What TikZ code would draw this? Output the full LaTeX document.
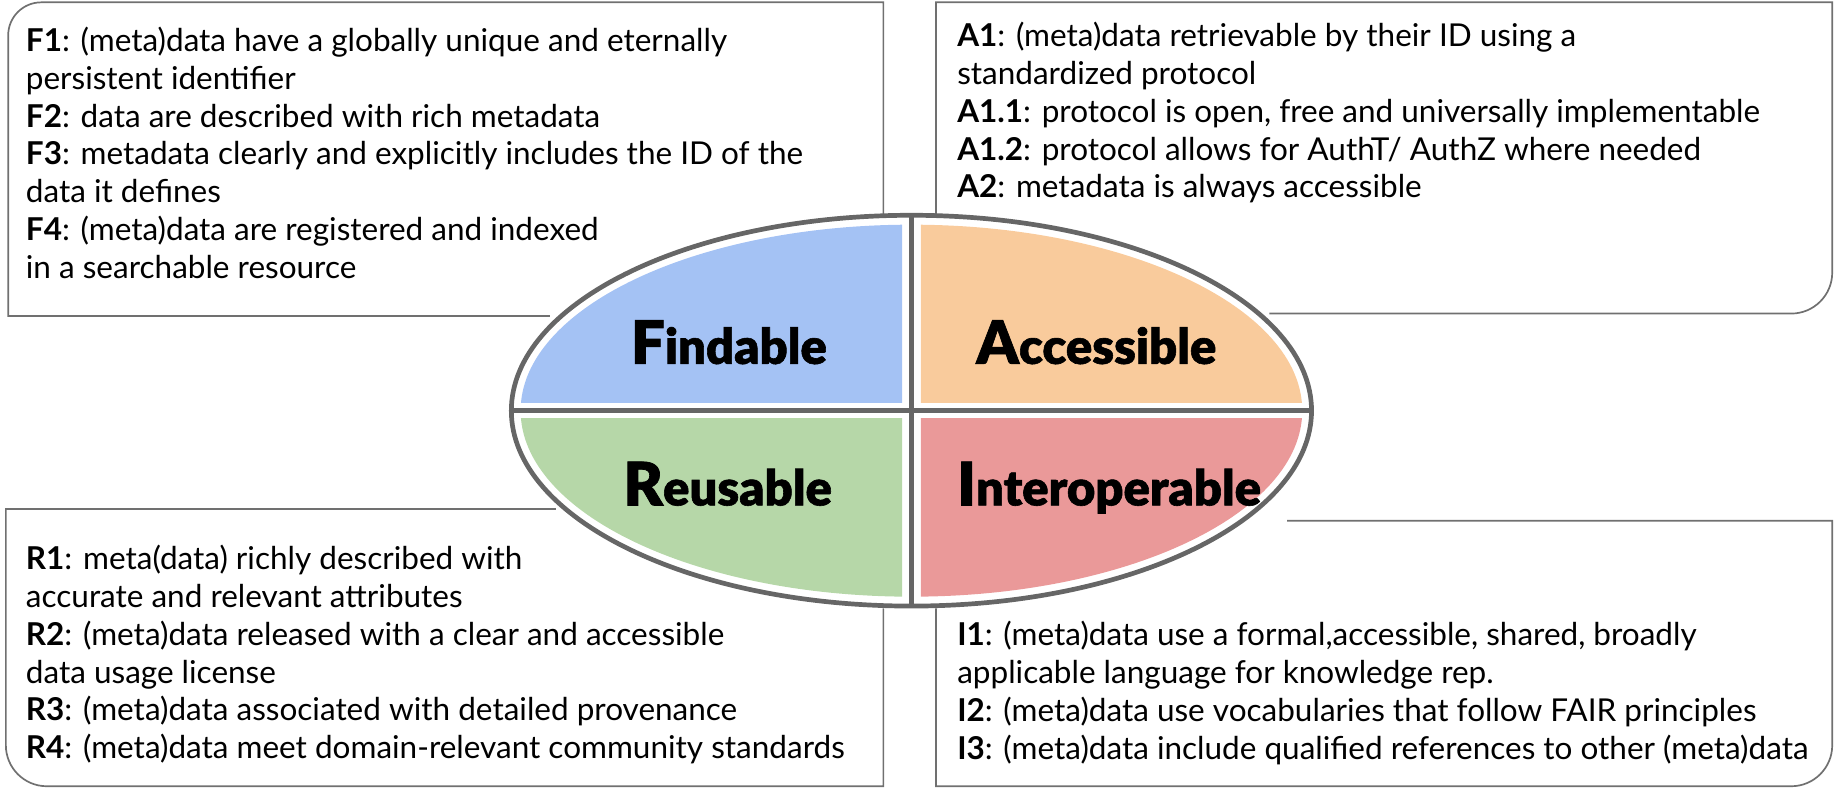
\documentclass[tikz,border=0pt]{standalone}
\usepackage{fontspec}
\setmainfont{Lato}
\newfontfamily\titlefont{Lato}[UprightFont={* Bold}, FakeBold=1.2]
\definecolor{edge}{HTML}{666666}
\definecolor{boxedge}{HTML}{707070}
\definecolor{fblue}{HTML}{A4C2F4}
\definecolor{aorange}{HTML}{F9CB9C}
\definecolor{rgreen}{HTML}{B6D7A8}
\definecolor{ired}{HTML}{EA9999}
\newcommand{\bigtitle}[2]{{\titlefont\bfseries\fontsize{60}{60}\selectfont #1}{\titlefont\bfseries\fontsize{49}{49}\selectfont #2}}
\begin{document}
\begin{tikzpicture}[x=1.17pt,y=-1.17pt,
  boxline/.style={draw=boxedge, line width=1.7pt},
  ringline/.style={draw=edge, line width=4.7pt},
  bodytext/.style={anchor=base west, inner sep=0pt, font=\fontsize{31.5}{37.8}\selectfont},
  titletext/.style={anchor=base, inner sep=0pt}]
\useasboundingbox (0,0) rectangle (1571.8,675.2);
% text boxes
\draw[boxline] (755,183) -- (755,2) [rounded corners=33pt] -- (7,2) [sharp corners] -- (7,270) -- (470,270);
\draw[boxline] (800,183) -- (800,2) -- (1566,2) [rounded corners=41pt] -- (1566,268) [sharp corners] -- (1085,268);
\draw[boxline] (475,435) -- (5,435) [rounded corners=41pt] -- (5,672) [sharp corners] -- (755,672) -- (755,520);
\draw[boxline] (1100,445) -- (1566,445) [rounded corners=41pt] -- (1566,672) [sharp corners] -- (800,672) -- (800,520);
% quadrants
\begin{scope}
\clip (400,150) rectangle (771,344);
\fill[fblue] (779,351) ellipse [x radius=390.8pt, y radius=186pt];
\end{scope}
\begin{scope}
\clip (787,150) rectangle (1160,344);
\fill[aorange] (779,351) ellipse [x radius=390.8pt, y radius=186pt];
\end{scope}
\begin{scope}
\clip (400,358) rectangle (771,560);
\fill[rgreen] (779,351) ellipse [x radius=390.8pt, y radius=186pt];
\end{scope}
\begin{scope}
\clip (787,358) rectangle (1160,560);
\fill[ired] (779,351) ellipse [x radius=390.8pt, y radius=186pt];
\end{scope}
\draw[ringline] (779,351) ellipse [x radius=400.1pt, y radius=195.4pt];
\draw[ringline] (779,184) -- (779,518);
\draw[ringline] (437,351) -- (1121,351);
% titles
\node[titletext] (findable) at (623,311) {\bigtitle{F}{indable}};
\node[titletext] (accessible) at (937,311) {\bigtitle{A}{ccessible}};
\node[titletext] (reusable) at (622,432) {\bigtitle{R}{eusable}};
\node[titletext] (interoperable) at (948,432) {\bigtitle{I}{nteroperable}};
% body texts
\node[bodytext] (ftext) at (22,44) {\begin{tabular}[t]{@{}l@{}}
\textbf{F1}: (meta)data have a globally unique and eternally\\
persistent identifier\\
\textbf{F2}: data are described with rich metadata\\
\textbf{F3}: metadata clearly and explicitly includes the ID of the\\
data it defines\\
\textbf{F4}: (meta)data are registered and indexed\\
in a searchable resource
\end{tabular}};
\node[bodytext] (atext) at (818,40) {\begin{tabular}[t]{@{}l@{}}
\textbf{A1}: (meta)data retrievable by their ID using a\\
standardized protocol\\
\textbf{A1.1}: protocol is open, free and universally implementable\\
\textbf{A1.2}: protocol allows for AuthT/ AuthZ where needed\\
\textbf{A2}: metadata is always accessible
\end{tabular}};
\node[bodytext] (rtext) at (22,487) {\begin{tabular}[t]{@{}l@{}}
\textbf{R1}: meta(data) richly described with\\
accurate and relevant attributes\\
\textbf{R2}: (meta)data released with a clear and accessible\\
data usage license\\
\textbf{R3}: (meta)data associated with detailed provenance\\
\textbf{R4}: (meta)data meet domain-relevant community standards
\end{tabular}};
\node[bodytext] (itext) at (818,552) {\begin{tabular}[t]{@{}l@{}}
\textbf{I1}: (meta)data use a formal,accessible, shared, broadly\\
applicable language for knowledge rep.\\
\textbf{I2}: (meta)data use vocabularies that follow FAIR principles\\
\textbf{I3}: (meta)data include qualified references to other (meta)data
\end{tabular}};
\end{tikzpicture}
\end{document}
